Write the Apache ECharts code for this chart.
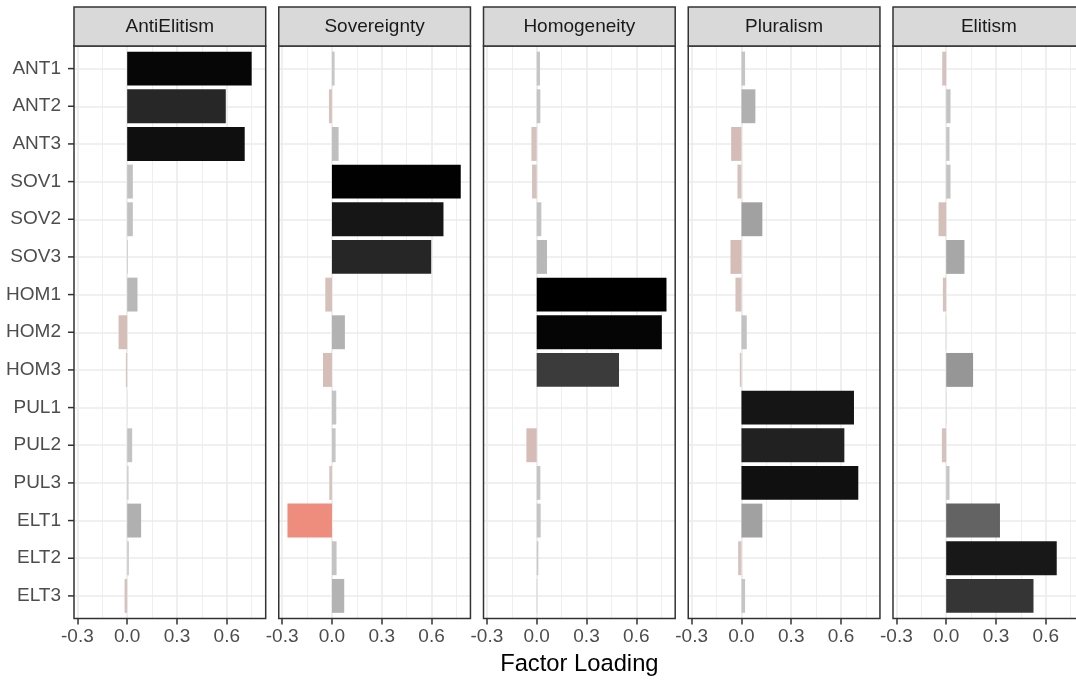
<!DOCTYPE html>
<html>
<head>
<meta charset="utf-8">
<title>Factor Loading</title>
<script src="https://cdn.jsdelivr.net/npm/echarts/dist/echarts.min.js"></script>
<style>
  html, body { margin: 0; padding: 0; background: #ffffff; }
  #chart { width: 1076px; height: 683px; }
</style>
</head>
<body>
<div id="chart"></div>
<script>
// Survey items (rows, top to bottom) and the five factors (panels)
const items = ['ANT1', 'ANT2', 'ANT3', 'SOV1', 'SOV2', 'SOV3', 'HOM1', 'HOM2', 'HOM3',
               'PUL1', 'PUL2', 'PUL3', 'ELT1', 'ELT2', 'ELT3'];
const factors = ['AntiElitism', 'Sovereignty', 'Homogeneity', 'Pluralism', 'Elitism'];

// Loadings of each item on each factor
const antiElitism = [0.750, 0.594, 0.708, 0.034, 0.034, 0.005, 0.062, -0.052, -0.008,
                     0.001, 0.030, 0.008, 0.084, 0.010, -0.016];
const sovereignty = [0.016, -0.018, 0.040, 0.776, 0.672, 0.598, -0.040, 0.078, -0.054,
                     0.026, 0.022, -0.016, -0.268, 0.028, 0.074];
const homogeneity = [0.020, 0.022, -0.032, -0.028, 0.028, 0.062, 0.782, 0.754, 0.496,
                     0.000, -0.062, 0.022, 0.024, 0.010, 0.004];
const pluralism   = [0.022, 0.084, -0.062, -0.024, 0.126, -0.066, -0.036, 0.032, -0.010,
                     0.678, 0.620, 0.704, 0.126, -0.020, 0.022];
const elitism     = [-0.024, 0.026, 0.020, 0.026, -0.046, 0.110, -0.020, -0.002, 0.162,
                     0.002, -0.026, 0.020, 0.324, 0.666, 0.526];

// Axis breaks
const xMajorTicks = [-0.3, 0, 0.3, 0.6];
const xMinorTicks = [-0.15, 0.15, 0.45, 0.75];

const loadings = [antiElitism, sovereignty, homogeneity, pluralism, elitism];

// ---- layout (pixels) ----
const PANEL_LEFT = 74;
const PANEL_STEP = 204.75;
const PANEL_W = 191.7;
const STRIP_TOP = 7;
const PANEL_TOP = 46;
const PANEL_H = 572.5;
const N = items.length;
const Y_MIN = 0.4, Y_MAX = N + 0.6;       // discrete axis padded by 0.6 rows each side
const ROW = PANEL_H / (Y_MAX - Y_MIN);
const DATA_TOP = PANEL_TOP + 0.1 * ROW;   // category bands start 0.1 rows lower
const DATA_H = N * ROW;
const TICK_LEN = 6;

// ---- styles ----
const FONT = '"Liberation Sans", Arial, Helvetica, sans-serif';
const TICK_TEXT = '#4d4d4d';
const DARK = '#333333';
const GRID_MAJOR = { color: '#ebebeb', width: 1.6 };
const GRID_MINOR = { color: '#ebebeb', width: 0.8 };
const CLEAR = 'rgba(0,0,0,0)';
const TICK_STYLE = { color: DARK, width: 1.5 };

// fill scale: grey to black for positive loadings, greyish pink to salmon for negative
const POS_STOPS = [[0, '#cdcdcd'], [0.13, '#a0a0a0'], [0.32, '#646464'], [0.5, '#3a3a3a'], [0.78, '#000000']];
const NEG_STOPS = [[0, '#d6c6c2'], [0.07, '#d5bbb4'], [0.27, '#ee8c7c']];

function hexRgb(h) {
  return [parseInt(h.slice(1, 3), 16), parseInt(h.slice(3, 5), 16), parseInt(h.slice(5, 7), 16)];
}
function fillFor(v) {
  const stops = v >= 0 ? POS_STOPS : NEG_STOPS;
  const a = Math.abs(v);
  if (a >= stops[stops.length - 1][0]) return stops[stops.length - 1][1];
  for (let i = 1; i < stops.length; i++) {
    if (a <= stops[i][0]) {
      const t = (a - stops[i - 1][0]) / (stops[i][0] - stops[i - 1][0]);
      const c0 = hexRgb(stops[i - 1][1]), c1 = hexRgb(stops[i][1]);
      const c = c0.map((x, k) => Math.round(x + (c1[k] - x) * t));
      return 'rgb(' + c.join(',') + ')';
    }
  }
  return stops[0][1];
}

// shared x range: data range expanded by 5% on each side
const all = loadings.flat().concat([0]);
const dMin = Math.min.apply(null, all), dMax = Math.max.apply(null, all);
const pad = 0.05 * (dMax - dMin);
const X_MIN = dMin - pad, X_MAX = dMax + pad;

const grids = [], xAxes = [], yAxes = [], series = [], graphics = [];
const rowValues = items.map((_, i) => i + 1);

factors.forEach((name, p) => {
  const left = PANEL_LEFT + p * PANEL_STEP;

  // frame grid: gridlines, ticks and labels
  grids.push({ left: left, top: PANEL_TOP, width: PANEL_W, height: PANEL_H,
               show: false, containLabel: false, outerBoundsMode: 'none' });
  // data grid: category bands for the bars
  grids.push({ left: left, top: DATA_TOP, width: PANEL_W, height: DATA_H,
               show: false, containLabel: false, outerBoundsMode: 'none' });
  const gFrame = 2 * p, gData = 2 * p + 1;

  // minor vertical gridlines
  xAxes.push({
    type: 'value', gridIndex: gFrame, min: X_MIN, max: X_MAX,
    axisLine: { show: false, onZero: false }, axisLabel: { show: false },
    axisTick: { show: false, customValues: xMinorTicks },
    splitLine: { show: true, lineStyle: GRID_MINOR }
  });
  // major vertical gridlines, ticks and labels
  xAxes.push({
    type: 'value', gridIndex: gFrame, min: X_MIN, max: X_MAX, position: 'bottom',
    axisLine: { show: true, onZero: false, lineStyle: { color: CLEAR } },
    axisTick: { show: true, inside: false, length: TICK_LEN, customValues: xMajorTicks,
                lineStyle: TICK_STYLE },
    axisLabel: { show: true, customValues: xMajorTicks, margin: 9,
                 color: TICK_TEXT, fontSize: 19, fontFamily: FONT,
                 formatter: v => v.toFixed(1) },
    splitLine: { show: true, lineStyle: GRID_MAJOR }
  });
  // data x axis (hidden)
  const xData = xAxes.length;
  xAxes.push({ type: 'value', gridIndex: gData, min: X_MIN, max: X_MAX, show: false,
               axisLine: { onZero: false }, splitLine: { show: false } });

  // horizontal gridlines at item rows, item labels on the first panel
  yAxes.push({
    type: 'value', gridIndex: gFrame, min: Y_MIN, max: Y_MAX, inverse: true,
    position: 'left',
    axisLine: { show: true, onZero: false, lineStyle: { color: CLEAR } },
    axisTick: { show: false, customValues: rowValues },
    axisLabel: { show: p === 0, customValues: rowValues, margin: 13,
                 color: TICK_TEXT, fontSize: 19, fontFamily: FONT,
                 formatter: v => items[Math.round(v) - 1] },
    splitLine: { show: true, lineStyle: GRID_MAJOR }
  });
  // item axis for the bars (hidden)
  const yData = yAxes.length;
  yAxes.push({ type: 'category', gridIndex: gData, data: items, inverse: true,
               boundaryGap: true, show: false, axisLine: { onZero: false },
               splitLine: { show: false } });

  series.push({
    type: 'bar', name: name, xAxisIndex: xData, yAxisIndex: yData,
    data: loadings[p], barWidth: '90%', silent: true, z: 3,
    itemStyle: { color: prm => fillFor(prm.value) }
  });

  // panel border
  graphics.push({
    type: 'rect', z: 100, silent: true,
    shape: { x: left, y: PANEL_TOP, width: PANEL_W, height: PANEL_H },
    style: { fill: 'none', stroke: DARK, lineWidth: 1.5 }
  });
  // facet strip
  graphics.push({
    type: 'rect', z: 100, silent: true,
    shape: { x: left, y: STRIP_TOP, width: PANEL_W, height: PANEL_TOP - STRIP_TOP },
    style: { fill: '#d9d9d9', stroke: DARK, lineWidth: 1.5 }
  });
  graphics.push({
    type: 'text', z: 101, silent: true,
    x: left + PANEL_W / 2, y: (STRIP_TOP + PANEL_TOP) / 2 + 0.5,
    style: { text: name, fill: '#1a1a1a', font: '19px ' + FONT,
             textAlign: 'center', textVerticalAlign: 'middle' }
  });
});

// item tick marks on the left edge of the first panel (same mapping as the row axis)
rowValues.forEach(r => {
  const y = PANEL_TOP + (r - Y_MIN) * ROW;
  graphics.push({
    type: 'rect', z: 102, silent: true,
    shape: { x: PANEL_LEFT - TICK_LEN, y: y - TICK_STYLE.width / 2,
             width: TICK_LEN, height: TICK_STYLE.width },
    style: { fill: TICK_STYLE.color }
  });
});

// x-axis title centred under the panels
graphics.push({
  type: 'text', z: 101, silent: true,
  x: (PANEL_LEFT + PANEL_LEFT + 4 * PANEL_STEP + PANEL_W) / 2, y: 664,
  style: { text: 'Factor Loading', fill: '#000000', font: '23.75px ' + FONT,
           textAlign: 'center', textVerticalAlign: 'middle' }
});

const chart = echarts.init(document.getElementById('chart'), null, { renderer: 'canvas' });
chart.setOption({
  animation: false,
  backgroundColor: '#ffffff',
  grid: grids,
  xAxis: xAxes,
  yAxis: yAxes,
  series: series,
  graphic: { elements: graphics }
});
</script>
</body>
</html>
